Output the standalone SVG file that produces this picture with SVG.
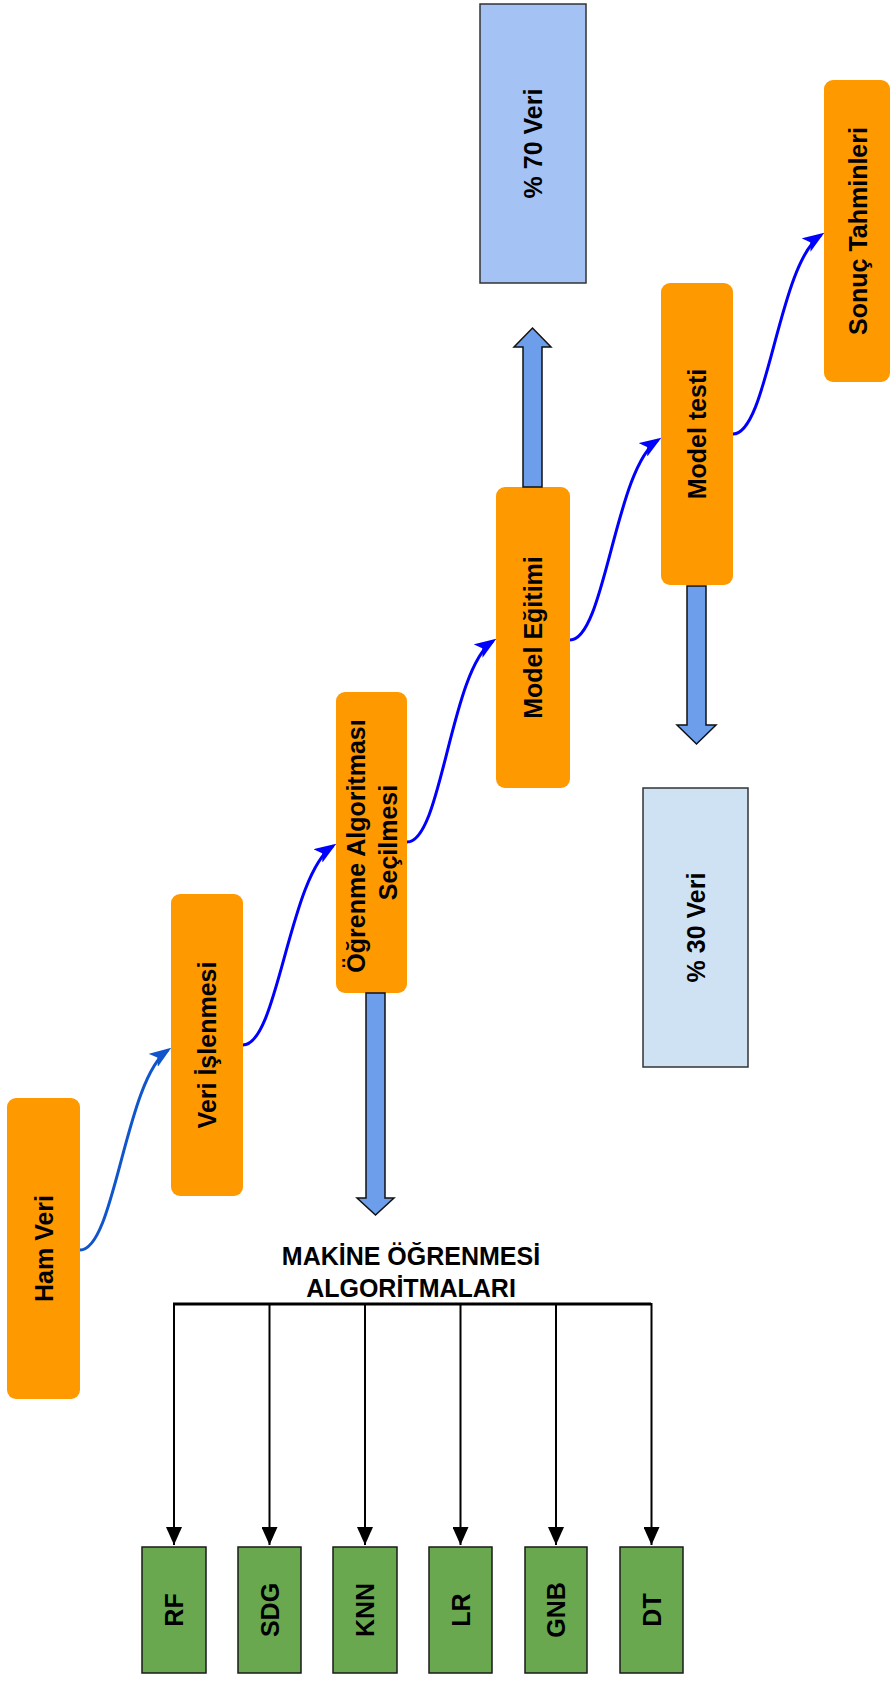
<svg xmlns="http://www.w3.org/2000/svg" width="891" height="1681" viewBox="0 0 891 1681">
  <style>
    .lbl { font-family: "Liberation Sans", Arial, sans-serif; font-weight: bold; font-size: 25px; fill: #000; text-anchor: middle; }
    .step { fill: #ff9900; }
    .algo { fill: #6aa84f; stroke: #1a1a1a; stroke-width: 1.5; }
    .split { stroke: #333; stroke-width: 1.5; }
    .fat { fill: #6d9eeb; stroke: #111; stroke-width: 1.5; stroke-linejoin: miter; }
    .flow { fill: none; stroke: #0000ff; stroke-width: 3; }
    .tree { fill: none; stroke: #000; }
  </style>
  <defs>
    <marker id="headBlue" viewBox="0 0 22 16" refX="18" refY="8" markerWidth="22" markerHeight="16" markerUnits="userSpaceOnUse" orient="auto">
      <path d="M0,0 L22,8 L0,16 L5,8 z" fill="#0000ff"/>
    </marker>
    <marker id="headMid" viewBox="0 0 22 16" refX="18" refY="8" markerWidth="22" markerHeight="16" markerUnits="userSpaceOnUse" orient="auto">
      <path d="M0,0 L22,8 L0,16 L5,8 z" fill="#1155cc"/>
    </marker>
    <marker id="headBlack" viewBox="0 0 16 18" refX="8" refY="18" markerWidth="16" markerHeight="18" markerUnits="userSpaceOnUse" orient="0">
      <path d="M0,0 L16,0 L8,18 z" fill="#000"/>
    </marker>
  </defs>

  <!-- pipeline steps -->
  <g id="ham-veri">
    <rect class="step" x="7" y="1098" width="73" height="301" rx="9"/>
    <text class="lbl" transform="translate(43.5,1248.5) rotate(-90)" y="9">Ham Veri</text>
  </g>
  <g id="veri-islenmesi">
    <rect class="step" x="171" y="894" width="72" height="302" rx="9"/>
    <text class="lbl" transform="translate(207,1045) rotate(-90)" y="9">Veri İşlenmesi</text>
  </g>
  <g id="algoritma-secimi">
    <rect class="step" x="336" y="692" width="71" height="301" rx="9"/>
    <text class="lbl" transform="translate(371.5,842.5) rotate(-90)">
      <tspan x="0" y="-7">Öğrenme Algoritması</tspan>
      <tspan x="0" y="25">Seçilmesi</tspan>
    </text>
  </g>
  <g id="model-egitimi">
    <rect class="step" x="496" y="487" width="74" height="301" rx="9"/>
    <text class="lbl" transform="translate(533,637.5) rotate(-90)" y="9">Model Eğitimi</text>
  </g>
  <g id="model-testi">
    <rect class="step" x="661" y="283" width="72" height="302" rx="9"/>
    <text class="lbl" transform="translate(697,434) rotate(-90)" y="9">Model testi</text>
  </g>
  <g id="sonuc-tahminleri">
    <rect class="step" x="824" y="80" width="66" height="302" rx="9"/>
    <text class="lbl" transform="translate(858,231) rotate(-90)" y="9">Sonuç Tahminleri</text>
  </g>

  <!-- data split -->
  <g id="veri-70">
    <rect class="split" x="480" y="4" width="106" height="279" fill="#a4c2f4"/>
    <text class="lbl" transform="translate(533,143.5) rotate(-90)" y="9">% 70 Veri</text>
  </g>
  <g id="veri-30">
    <rect class="split" x="643" y="788" width="105" height="279" fill="#cfe2f3"/>
    <text class="lbl" transform="translate(695.5,927.5) rotate(-90)" y="9">% 30 Veri</text>
  </g>

  <!-- algorithm family -->
  <g id="algoritmalar-baslik">
    <text class="lbl" x="411" y="1265">MAKİNE ÖĞRENMESİ</text>
    <text class="lbl" x="411" y="1297">ALGORİTMALARI</text>
  </g>
  <g id="rf">
    <rect class="algo" x="142" y="1547" width="64" height="126"/>
    <text class="lbl" transform="translate(174,1610) rotate(-90)" y="9">RF</text>
  </g>
  <g id="sdg">
    <rect class="algo" x="238" y="1547" width="63" height="126"/>
    <text class="lbl" transform="translate(269.5,1610) rotate(-90)" y="9">SDG</text>
  </g>
  <g id="knn">
    <rect class="algo" x="333" y="1547" width="64" height="126"/>
    <text class="lbl" transform="translate(365,1610) rotate(-90)" y="9">KNN</text>
  </g>
  <g id="lr">
    <rect class="algo" x="429" y="1547" width="63" height="126"/>
    <text class="lbl" transform="translate(460.5,1610) rotate(-90)" y="9">LR</text>
  </g>
  <g id="gnb">
    <rect class="algo" x="525" y="1547" width="62" height="126"/>
    <text class="lbl" transform="translate(556,1610) rotate(-90)" y="9">GNB</text>
  </g>
  <g id="dt">
    <rect class="algo" x="620" y="1547" width="63" height="126"/>
    <text class="lbl" transform="translate(651.5,1610) rotate(-90)" y="9">DT</text>
  </g>

  <!-- connectors -->
  <g id="connectors">
    <!-- curved flow between steps -->
    <path class="flow" style="stroke:#1155cc" marker-end="url(#headMid)" d="M80,1250 c35,0 45,-170 88,-200"/>
    <path class="flow" marker-end="url(#headBlue)" d="M243,1045 c35,0 46,-170 90,-199"/>
    <path class="flow" marker-end="url(#headBlue)" d="M407,842 c35,0 43,-172 86,-201"/>
    <path class="flow" marker-end="url(#headBlue)" d="M570,640 c35,0 45,-172 88,-200"/>
    <path class="flow" marker-end="url(#headBlue)" d="M733,434 c35,0 45,-170 88,-199"/>

    <!-- block arrows -->
    <path class="fat" d="M366,993 L385,993 L385,1198 L394,1198 L375.5,1215 L357,1198 L366,1198 z"/>
    <path class="fat" d="M523,487 L542,487 L542,347 L551,347 L532.5,328 L514,347 L523,347 z"/>
    <path class="fat" d="M687,586 L706,586 L706,725 L716,725 L696.5,744 L677,725 L687,725 z"/>

    <!-- algorithm tree -->
    <path class="tree" stroke-width="3" d="M173,1304 H651"/>
    <g class="tree" stroke-width="2">
      <path marker-end="url(#headBlack)" d="M174,1303 V1545"/>
      <path marker-end="url(#headBlack)" d="M269.5,1303 V1545"/>
      <path marker-end="url(#headBlack)" d="M365,1303 V1545"/>
      <path marker-end="url(#headBlack)" d="M460.5,1303 V1545"/>
      <path marker-end="url(#headBlack)" d="M556,1303 V1545"/>
      <path marker-end="url(#headBlack)" d="M651.5,1303 V1545"/>
    </g>
  </g>
</svg>
